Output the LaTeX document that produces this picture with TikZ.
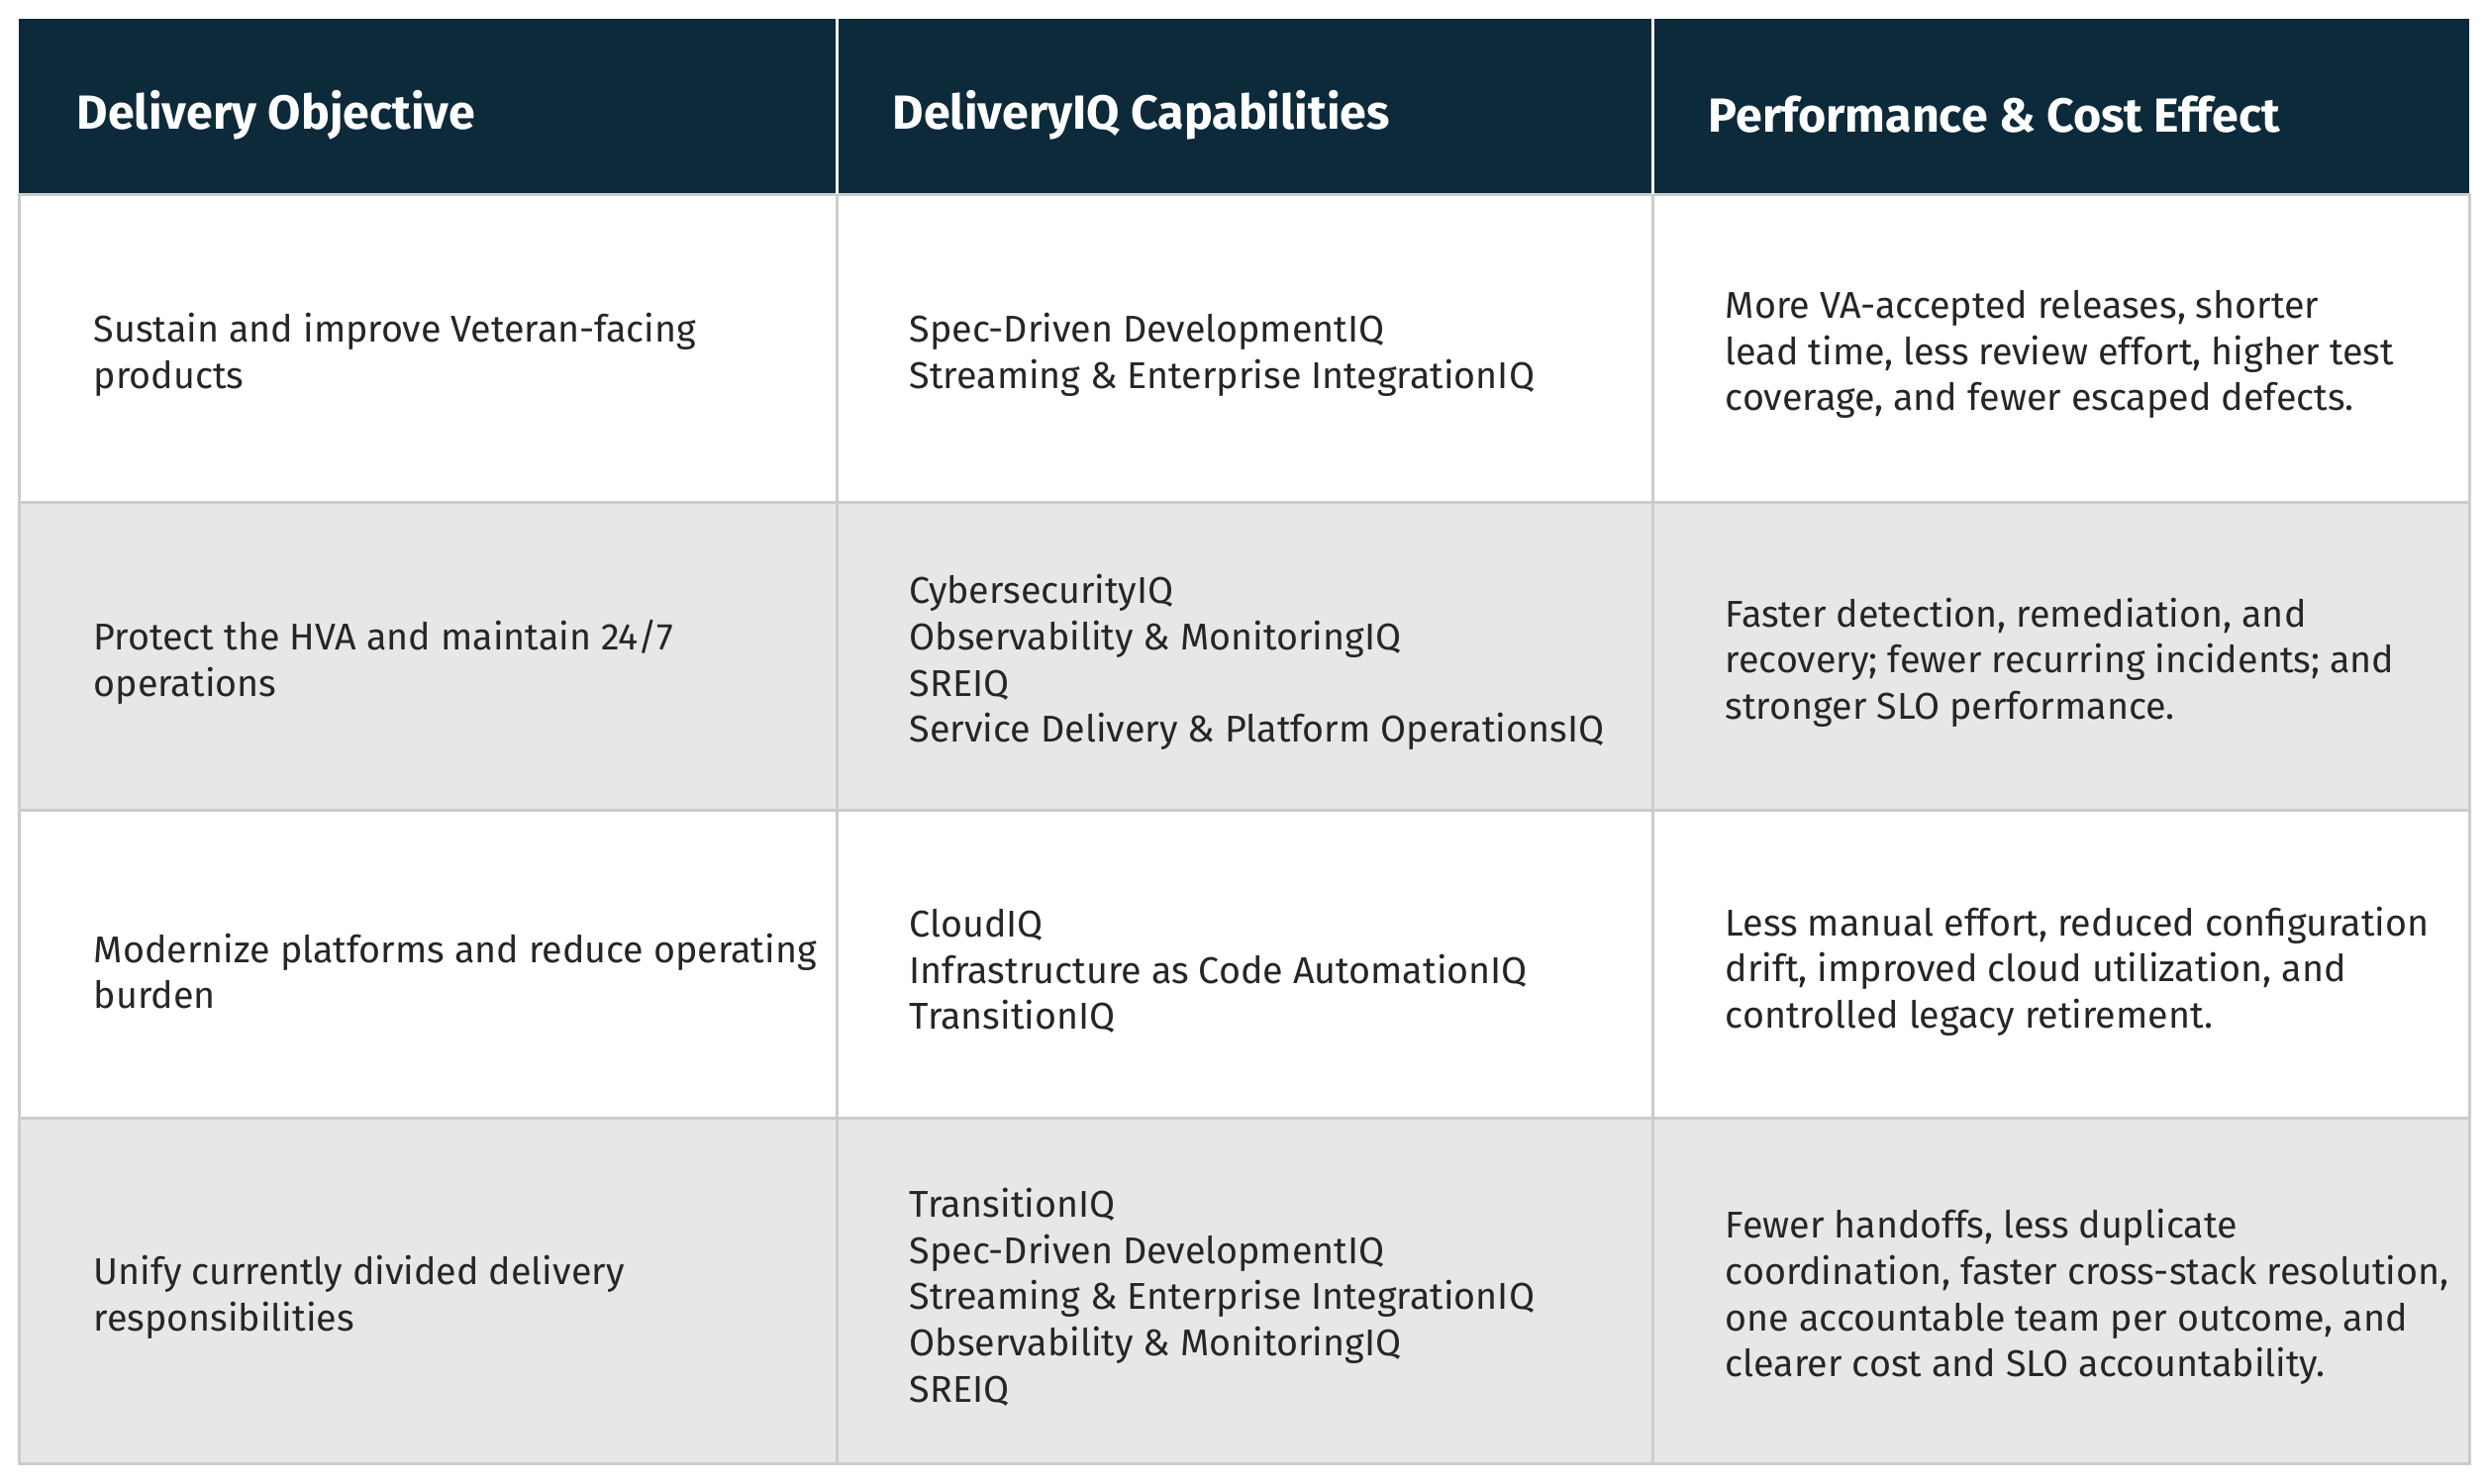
\documentclass[tikz,border=0pt]{standalone}
\usepackage{fontspec}
\setmainfont{Fira Sans}
\begin{document}
\begin{tikzpicture}[x=0.3pt,y=-0.3pt,
  hd/.style={anchor=west,text=white,font=\fontsize{14.5}{17}\selectfont\bfseries},
  bd/.style={anchor=west,align=left,text=black!85,font=\fontsize{11.3}{14}\selectfont},
  grid/.style={draw=black!20,line width=0.9pt}]
\definecolor{navy}{HTML}{0D2A3A}
\definecolor{rowgrey}{HTML}{E6E7E9}
\useasboundingbox (0,0) rectangle (2514,1498);
\fill[white] (0,0) rectangle (2514,1498);
\fill[navy] (19,19) rectangle (2494,196);
\fill[rowgrey] (19,507) rectangle (2494,818);
\fill[rowgrey] (19,1129) rectangle (2494,1478);
\draw[grid] (19,196) rectangle (2494,1478);
\draw[grid] (19,507) -- (2494,507);
\draw[grid] (19,818) -- (2494,818);
\draw[grid] (19,1129) -- (2494,1129);
\draw[grid] (845,196) -- (845,1478);
\draw[grid] (1669,196) -- (1669,1478);
\draw[white,line width=0.9pt] (845,19) -- (845,196);
\draw[white,line width=0.9pt] (1669,19) -- (1669,196);
\node[hd] (h1) at (66,116) {Delivery Objective};
\node[hd] (h2) at (890,116) {DeliveryIQ Capabilities};
\node[hd] (h3) at (1714,116) {Performance \& Cost Effect};
\node[bd] (a1) at (83,358) {Sustain and improve Veteran-facing\\products};
\node[bd] (b1) at (907,358) {Spec-Driven DevelopmentIQ\\Streaming \& Enterprise IntegrationIQ};
\node[bd] (c1) at (1731,358) {More VA-accepted releases, shorter\\lead time, less review effort, higher test\\coverage, and fewer escaped defects.};
\node[bd] (a2) at (83,669) {Protect the HVA and maintain 24/7\\operations};
\node[bd] (b2) at (907,669) {CybersecurityIQ\\Observability \& MonitoringIQ\\SREIQ\\Service Delivery \& Platform OperationsIQ};
\node[bd] (c2) at (1731,669) {Faster detection, remediation, and\\recovery; fewer recurring incidents; and\\stronger SLO performance.};
\node[bd] (a3) at (83,981) {Modernize platforms and reduce operating\\burden};
\node[bd] (b3) at (907,981) {CloudIQ\\Infrastructure as Code AutomationIQ\\TransitionIQ};
\node[bd] (c3) at (1731,981) {Less manual effort, reduced configuration\\drift, improved cloud utilization, and\\controlled legacy retirement.};
\node[bd] (a4) at (83,1310) {Unify currently divided delivery\\responsibilities};
\node[bd] (b4) at (907,1310) {TransitionIQ\\Spec-Driven DevelopmentIQ\\Streaming \& Enterprise IntegrationIQ\\Observability \& MonitoringIQ\\SREIQ};
\node[bd] (c4) at (1731,1310) {Fewer handoffs, less duplicate\\coordination, faster cross-stack resolution,\\one accountable team per outcome, and\\clearer cost and SLO accountability.};
\end{tikzpicture}
\end{document}
